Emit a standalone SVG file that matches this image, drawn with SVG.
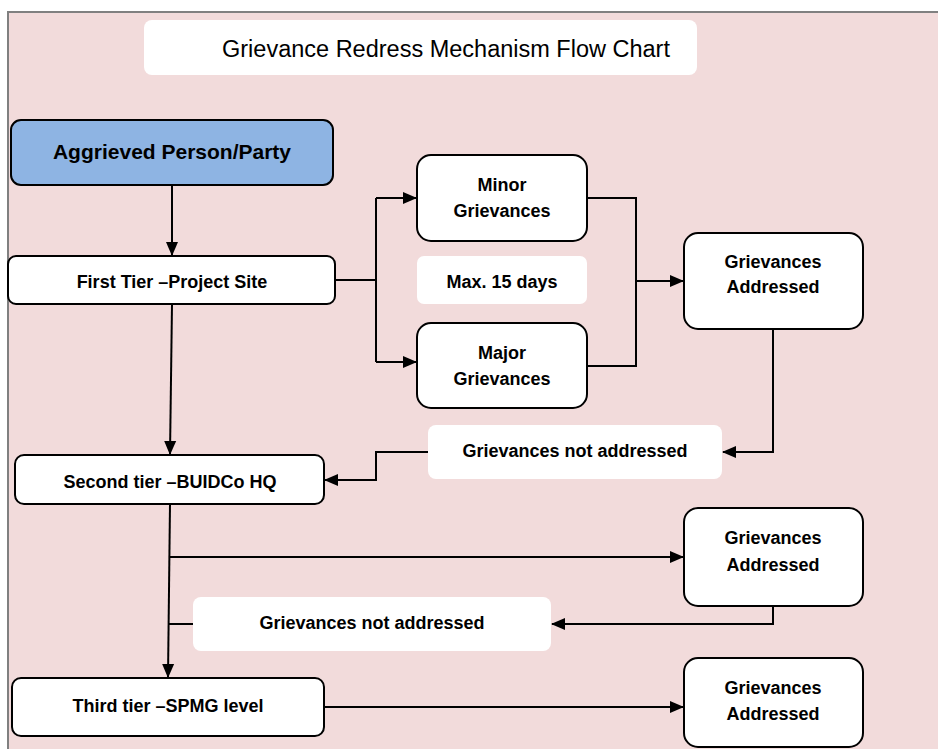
<svg xmlns="http://www.w3.org/2000/svg" width="938" height="749" viewBox="0 0 938 749">
<defs>
<marker id="ah" markerWidth="14" markerHeight="14" refX="13" refY="7" orient="auto" markerUnits="userSpaceOnUse">
<path d="M0,1 L14,7 L0,13 z" fill="#000"/>
</marker>
<style>
.node{fill:#fff;stroke:#000;stroke-width:2}
.lbl{fill:#fff;stroke:none}
.t{font-family:"Liberation Sans",Arial,sans-serif;font-weight:bold;font-size:18px;fill:#000;text-anchor:middle}
.c{fill:none;stroke:#000;stroke-width:2}
</style>
</defs>
<rect x="0" y="0" width="938" height="749" fill="#fff"/>
<rect x="8" y="12" width="940" height="750" fill="#F2DBDB" stroke="#808080" stroke-width="2"/>
<g id="title">
<rect class="lbl" x="144" y="20" width="553" height="55" rx="8"/>
<text x="446" y="57" style="font-family:'Liberation Sans',Arial,sans-serif;font-size:23.5px" text-anchor="middle" fill="#000">Grievance Redress Mechanism Flow Chart</text>
</g>
<g id="connectors">
<path class="c" d="M172,185 V255" marker-end="url(#ah)"/>
<path class="c" d="M335,280 H376"/>
<path class="c" d="M376,198 V362"/>
<path class="c" d="M376,198 H416" marker-end="url(#ah)"/>
<path class="c" d="M376,362 H416" marker-end="url(#ah)"/>
<path class="c" d="M587,198 H636 V366 H587"/>
<path class="c" d="M636,281 H683" marker-end="url(#ah)"/>
<path class="c" d="M773,329 V452 H723" marker-end="url(#ah)"/>
<path class="c" d="M428,452 H376 V480 H325" marker-end="url(#ah)"/>
<path class="c" d="M172,304 L170,454" marker-end="url(#ah)"/>
<path class="c" d="M170,504 L168,677" marker-end="url(#ah)"/>
<path class="c" d="M170,557 H683" marker-end="url(#ah)"/>
<path class="c" d="M773,606 V624 H552" marker-end="url(#ah)"/>
<path class="c" d="M193,624 H169"/>
<path class="c" d="M324,707 H683" marker-end="url(#ah)"/>
</g>
<g id="aggrieved">
<rect x="11" y="120" width="322" height="65" rx="10" fill="#8EB4E3" stroke="#000" stroke-width="2"/>
<text class="t" x="172" y="159" style="font-size:21px">Aggrieved Person/Party</text>
</g>
<g id="first-tier">
<rect class="node" x="8" y="256" width="327" height="48" rx="8"/>
<text class="t" x="172" y="288">First Tier –Project Site</text>
</g>
<g id="minor">
<rect class="node" x="417" y="155" width="170" height="86" rx="14"/>
<text class="t" x="502" y="191">Minor</text>
<text class="t" x="502" y="217">Grievances</text>
</g>
<g id="max-days">
<rect class="lbl" x="417" y="256" width="170" height="48" rx="7"/>
<text class="t" x="502" y="288">Max. 15 days</text>
</g>
<g id="major">
<rect class="node" x="417" y="323" width="170" height="85" rx="14"/>
<text class="t" x="502" y="359">Major</text>
<text class="t" x="502" y="385">Grievances</text>
</g>
<g id="addressed-1">
<rect class="node" x="684" y="233" width="179" height="96" rx="14"/>
<text class="t" x="773" y="268">Grievances</text>
<text class="t" x="773" y="293">Addressed</text>
</g>
<g id="not-addressed-1">
<rect class="lbl" x="428" y="425" width="294" height="54" rx="8"/>
<text class="t" x="575" y="457">Grievances not addressed</text>
</g>
<g id="second-tier">
<rect class="node" x="15" y="455" width="309" height="49" rx="9"/>
<text class="t" x="170" y="488">Second tier –BUIDCo HQ</text>
</g>
<g id="addressed-2">
<rect class="node" x="684" y="508" width="179" height="98" rx="14"/>
<text class="t" x="773" y="544">Grievances</text>
<text class="t" x="773" y="571">Addressed</text>
</g>
<g id="not-addressed-2">
<rect class="lbl" x="193" y="597" width="358" height="54" rx="8"/>
<text class="t" x="372" y="629">Grievances not addressed</text>
</g>
<g id="third-tier">
<rect class="node" x="12" y="678" width="312" height="58" rx="9"/>
<text class="t" x="168" y="712">Third tier –SPMG level</text>
</g>
<g id="addressed-3">
<rect class="node" x="684" y="658" width="179" height="89" rx="14"/>
<text class="t" x="773" y="694">Grievances</text>
<text class="t" x="773" y="720">Addressed</text>
</g>
</svg>
